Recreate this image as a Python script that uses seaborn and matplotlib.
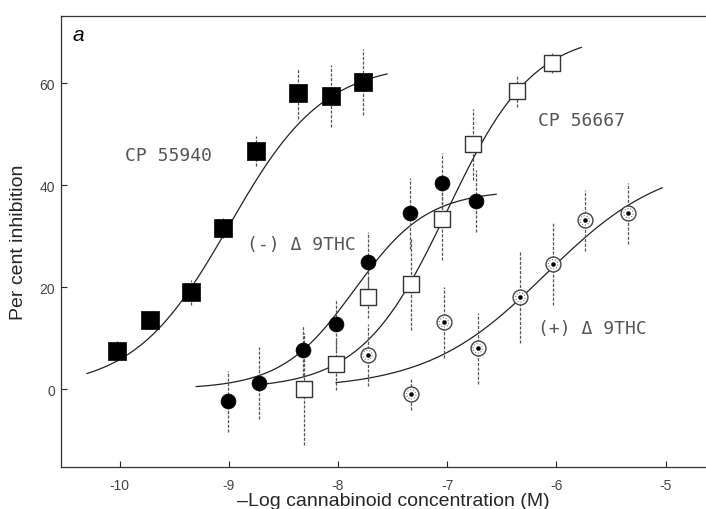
import numpy as np
import pandas as pd
import seaborn as sns
import matplotlib.pyplot as plt

# dose values (-log M) and per cent inhibition
cp55940_x = [-10.02, -9.72, -9.35, -9.05, -8.75, -8.37, -8.06, -7.77]
cp55940_y = [7.5, 13.5, 19.0, 31.6, 46.7, 58.0, 57.5, 60.2]
cp55940_err = [2, 1, 2.5, 2, 3, 5, 6, 6.5]

cp56667_x = [-8.31, -8.02, -7.73, -7.33, -7.05, -6.76, -6.36, -6.04]
cp56667_y = [0.0, 4.9, 18.0, 20.6, 33.3, 48.0, 58.4, 64.0]
cp56667_err = [11, 5, 4, 9, 8, 7, 3, 2]

minus_thc_x = [-9.01, -8.72, -8.32, -8.02, -7.73, -7.34, -7.05, -6.74]
minus_thc_y = [-2.4, 1.2, 7.6, 12.7, 24.9, 34.5, 40.4, 36.9]
minus_thc_err = [6, 7, 5, 5, 6, 7, 6, 6]

plus_thc_x = [-7.73, -7.33, -7.03, -6.72, -6.33, -6.03, -5.74, -5.34]
plus_thc_y = [6.7, -1.0, 13.1, 8.0, 18.0, 24.5, 33.1, 34.5]
plus_thc_err = [6, 3, 7, 7, 9, 8, 6, 6]

# fitted dose-response curves: (x start, x end, top, log EC50, hill slope)
curve_params = {
    "CP 55940": (-10.3, -7.55, 64, -9.0, 1.0),
    "CP 56667": (-8.75, -5.77, 70, -7.0, 1.1),
    "(-) THC": (-9.3, -6.55, 39, -7.85, 1.3),
    "(+) THC": (-8.02, -5.03, 45, -6.1, 0.8),
}

x_ticks = [-10, -9, -8, -7, -6, -5]
y_ticks = [0, 20, 40, 60]

rows = []
for name, (x0, x1, top, ec50, n) in curve_params.items():
    xs = np.linspace(x0, x1, 200)
    ys = top / (1 + 10 ** ((ec50 - xs) * n))
    rows.append(pd.DataFrame({"x": xs, "y": ys, "drug": name}))
curves = pd.concat(rows, ignore_index=True)

sns.set_style("ticks")
plt.rcParams['font.family'] = ['Liberation Sans', 'DejaVu Sans']

fig = plt.figure(figsize=(7.06, 5.10), dpi=100)
ax = fig.add_axes([0.086, 0.082, 0.914, 0.885])

sns.lineplot(data=curves, x="x", y="y", units="drug", estimator=None,
             color="#222222", lw=0.9, ax=ax, legend=False)

# error bars (dotted in the scan)
for xs, ys, es in [(cp55940_x, cp55940_y, cp55940_err),
                   (cp56667_x, cp56667_y, cp56667_err),
                   (minus_thc_x, minus_thc_y, minus_thc_err),
                   (plus_thc_x, plus_thc_y, plus_thc_err)]:
    eb = ax.errorbar(xs, ys, yerr=es, fmt="none", ecolor="#555555",
                     elinewidth=0.9, capsize=0, zorder=2)
    eb[2][0].set_linestyle((0, (2.5, 1.2)))

sns.scatterplot(x=cp55940_x, y=cp55940_y, marker="s", s=150, color="black",
                edgecolor="black", linewidth=0.5, ax=ax, zorder=4)
sns.scatterplot(x=cp56667_x, y=cp56667_y, marker="s", s=120, color="white",
                edgecolor="#333333", linewidth=1.0, ax=ax, zorder=4)
sns.scatterplot(x=minus_thc_x, y=minus_thc_y, marker="o", s=115, color="black",
                edgecolor="black", linewidth=0.5, ax=ax, zorder=4)
sns.scatterplot(x=plus_thc_x, y=plus_thc_y, marker="o", s=115, color="white",
                edgecolor="#444444", linewidth=1.0, ax=ax, zorder=4)
sns.scatterplot(x=plus_thc_x, y=plus_thc_y, marker="o", s=45, color="white",
                edgecolor="#777777", linewidth=0.8, linestyle=":", ax=ax, zorder=5)
sns.scatterplot(x=plus_thc_x, y=plus_thc_y, marker="o", s=9, color="black",
                edgecolor="black", ax=ax, zorder=6)

txt_kw = dict(fontsize=13, color="#555555", family=["DejaVu Sans Mono"], va="center")
ax.text(-9.95, 46.0, "CP 55940", **txt_kw)
ax.text(-6.17, 52.7, "CP 56667", **txt_kw)
ax.text(-8.83, 28.4, "(-) \u0394 9THC", **txt_kw)
ax.text(-6.17, 12.0, "(+) \u0394 9THC", **txt_kw)
ax.text(-10.43, 69.6, "a", fontsize=15, style="italic", color="black", va="center")

ax.set_xlim(-10.54, -4.63)
ax.set_ylim(-15.3, 73.2)
ax.set_xticks(x_ticks)
ax.set_xticklabels([str(t) for t in x_ticks])
ax.set_yticks(y_ticks)
ax.tick_params(direction="in", length=4, width=0.8, labelsize=10,
               labelcolor="#444444", pad=4)
ax.tick_params(axis="x", pad=8)
ax.set_xlabel("\u2013Log cannabinoid concentration (M)", fontsize=14)
ax.set_ylabel("Per cent inhibition", fontsize=14)
ax.xaxis.set_label_coords(0.515, -0.055)
ax.yaxis.set_label_coords(-0.053, 0.5)

for side in ["left", "bottom", "top"]:
    ax.spines[side].set_linewidth(0.9)
    ax.spines[side].set_color("#333333")
ax.spines["right"].set_visible(False)

fig.savefig("out.png", dpi=100)
plt.close(fig)
